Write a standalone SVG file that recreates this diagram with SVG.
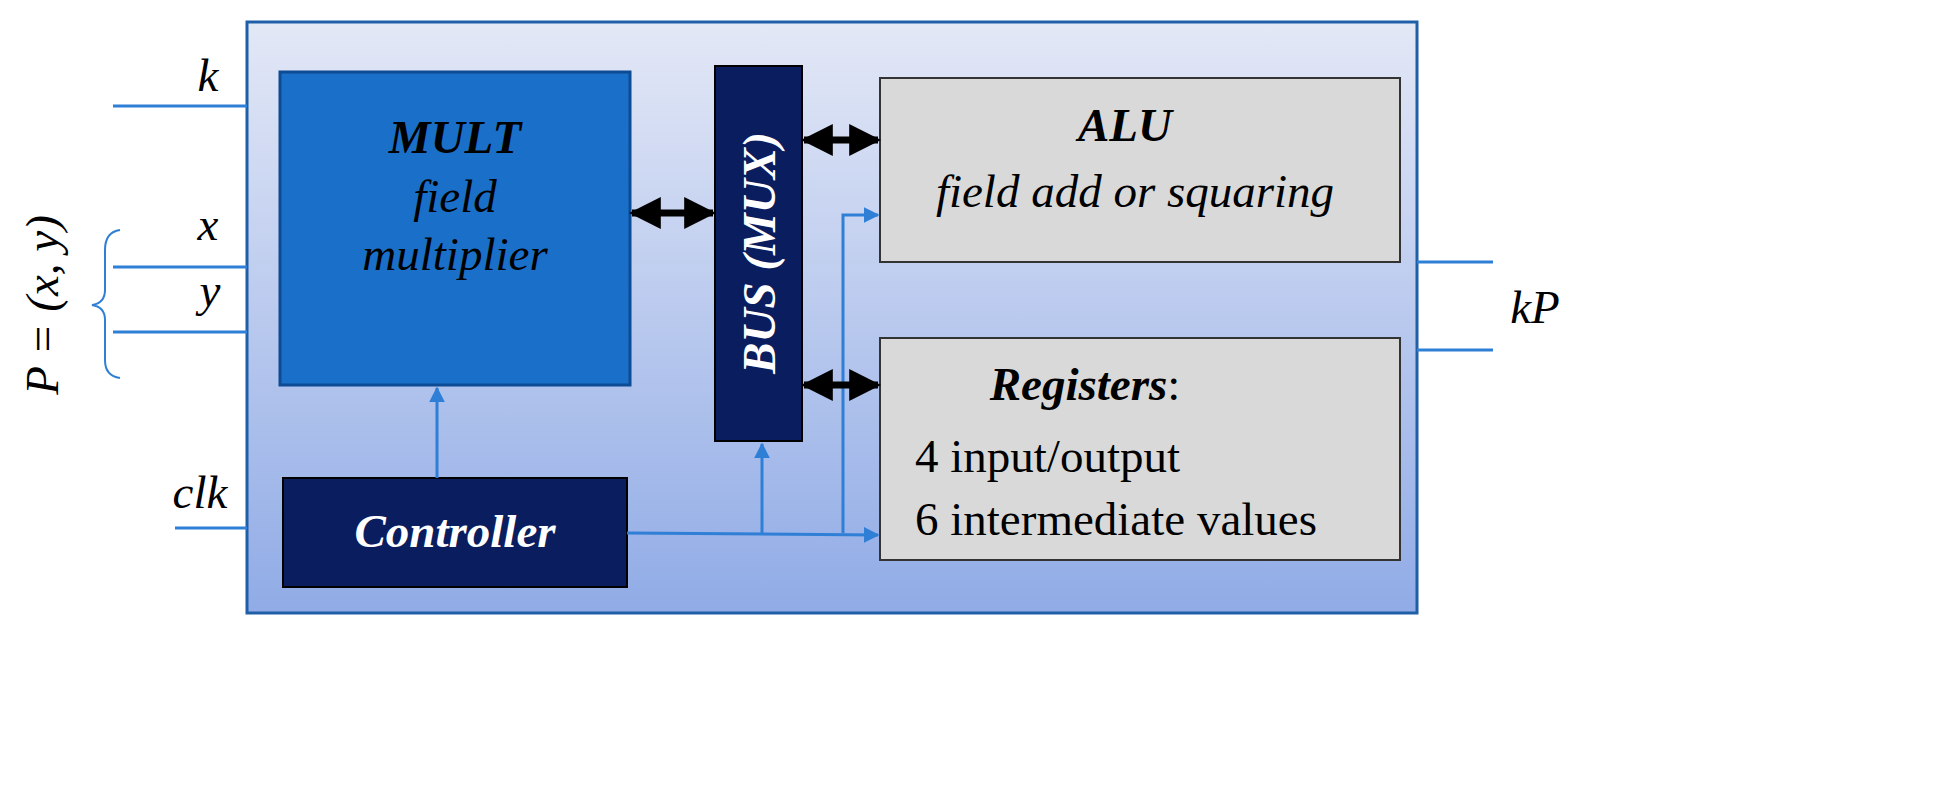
<svg xmlns="http://www.w3.org/2000/svg" width="1945" height="795" viewBox="0 0 1945 795">
<defs>
<linearGradient id="bg" x1="0" y1="0" x2="0" y2="1"><stop offset="0" stop-color="#e3e8f6"/><stop offset="1" stop-color="#90abe6"/></linearGradient>
<marker id="bl" viewBox="0 0 10 10" refX="9" refY="5" markerWidth="16" markerHeight="16" orient="auto" markerUnits="userSpaceOnUse"><path d="M0,0 L10,5 L0,10 z" fill="#2f7fd6"/></marker>
<marker id="bk" viewBox="0 0 10 10" refX="9" refY="5" markerWidth="32" markerHeight="36" orient="auto-start-reverse" markerUnits="userSpaceOnUse"><path d="M0,0 L10,5 L0,10 z" fill="#000"/></marker>
</defs>
<style>
.t{font-family:"Liberation Serif",serif;font-style:italic;font-size:47px}
.b{font-weight:bold}
.w{fill:#fff}
.bl{stroke:#2f7fd6;stroke-width:3;fill:none}
.bk{stroke:#000;stroke-width:7;fill:none}
</style>
<rect width="1945" height="795" fill="#fff"/>
<g id="frame"><rect x="247" y="22" width="1170" height="591" fill="url(#bg)" stroke="#1f5fa8" stroke-width="3"/></g>
<g id="mult"><rect x="280" y="72" width="350" height="313" fill="#1a70c9" stroke="#0d4b94" stroke-width="3"/>
<text class="t b" x="455" y="153" text-anchor="middle">MULT</text>
<text class="t" x="455" y="212" text-anchor="middle">field</text>
<text class="t" x="455" y="270" text-anchor="middle">multiplier</text></g>
<g id="bus"><rect x="715" y="66" width="87" height="375" fill="#0a1d5f" stroke="#000" stroke-width="2"/>
<text class="t b w" transform="translate(775,253) rotate(-90)" text-anchor="middle">BUS (MUX)</text></g>
<g id="alu"><rect x="880" y="78" width="520" height="184" fill="#d9d9d9" stroke="#333" stroke-width="2"/>
<text class="t b" x="1125" y="141" text-anchor="middle">ALU</text>
<text class="t" x="1135" y="207" text-anchor="middle">field add or squaring</text></g>
<g id="registers"><rect x="880" y="338" width="520" height="222" fill="#d9d9d9" stroke="#333" stroke-width="2"/>
<text class="t" x="1085" y="400" text-anchor="middle"><tspan font-weight="bold">Registers</tspan><tspan font-style="normal">:</tspan></text>
<text class="t" x="915" y="472" style="font-style:normal">4 input/output</text>
<text class="t" x="915" y="535" style="font-style:normal">6 intermediate values</text></g>
<g id="controller"><rect x="283" y="478" width="344" height="109" fill="#0a1d5f" stroke="#000" stroke-width="2"/>
<text class="t b w" x="455" y="547" text-anchor="middle">Controller</text></g>
<g id="labels">
<text class="t" x="208" y="91" text-anchor="middle">k</text>
<text class="t" x="208" y="240" text-anchor="middle">x</text>
<text class="t" x="210" y="306" text-anchor="middle">y</text>
<text class="t" x="200" y="508" text-anchor="middle">clk</text>
<text class="t" x="1535" y="323" text-anchor="middle">kP</text>
<text class="t" transform="translate(58,305) rotate(-90)" text-anchor="middle">P = (x, y)</text>
<path d="M120,230 Q105,232 105,250 L105,290 Q105,303 92,305 Q105,307 105,320 L105,360 Q105,376 120,378" fill="none" stroke="#2f7fd6" stroke-width="2"/>
</g>
<g id="connectors">
<line class="bl" x1="113" y1="106" x2="247" y2="106"/>
<line class="bl" x1="113" y1="267" x2="247" y2="267"/>
<line class="bl" x1="113" y1="332" x2="247" y2="332"/>
<line class="bl" x1="175" y1="528" x2="247" y2="528"/>
<line class="bl" x1="1417" y1="262" x2="1493" y2="262"/>
<line class="bl" x1="1417" y1="350" x2="1493" y2="350"/>
<line class="bl" x1="437" y1="478" x2="437" y2="388" marker-end="url(#bl)"/>
<line class="bl" x1="627" y1="533" x2="878" y2="535" marker-end="url(#bl)"/>
<line class="bl" x1="762" y1="533" x2="762" y2="444" marker-end="url(#bl)"/>
<polyline class="bl" points="843,533 843,215 878,215" marker-end="url(#bl)"/>
<line class="bk" x1="632" y1="213" x2="713" y2="213" marker-start="url(#bk)" marker-end="url(#bk)"/>
<line class="bk" x1="804" y1="140" x2="878" y2="140" marker-start="url(#bk)" marker-end="url(#bk)"/>
<line class="bk" x1="804" y1="385" x2="878" y2="385" marker-start="url(#bk)" marker-end="url(#bk)"/>
</g>
</svg>
